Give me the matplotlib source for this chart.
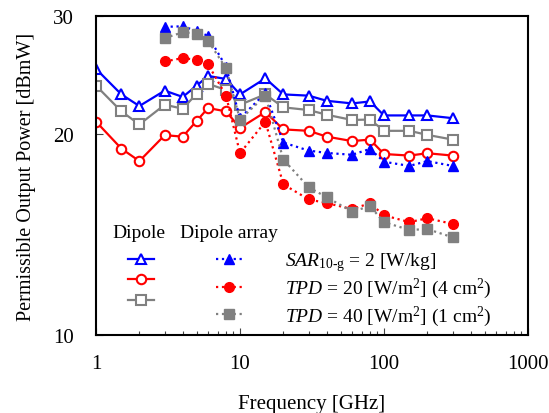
import matplotlib
matplotlib.use('Agg')
import matplotlib.pyplot as plt
import matplotlib.ticker as ticker

plt.rcParams['font.family'] = ['Liberation Serif', 'DejaVu Serif']
plt.rcParams['mathtext.fontset'] = 'custom'
plt.rcParams['mathtext.rm'] = 'Liberation Serif'
plt.rcParams['mathtext.it'] = 'Liberation Serif:italic'

# ---------------------------------------------------------------------------
# Data
# ---------------------------------------------------------------------------
freq_dipole = [1, 1.5, 2, 3, 4, 5, 6, 8, 10, 15, 20, 30, 40, 60, 80, 100, 150, 200, 300]
sar_dipole = [25.0, 22.9, 22.0, 23.2, 22.7, 23.6, 24.4, 24.15, 22.9, 24.2, 22.9, 22.8,
              22.4, 22.2, 22.35, 21.3, 21.3, 21.3, 21.1]
tpd20_dipole = [20.85, 19.0, 18.2, 19.9, 19.8, 20.9, 21.85, 21.6, 20.4, 21.55, 20.3, 20.2,
                19.8, 19.5, 19.6, 18.65, 18.55, 18.7, 18.55]
tpd40_dipole = [23.6, 21.6, 20.65, 22.1, 21.8, 22.95, 23.75, 23.25, 22.1, 22.9, 21.9, 21.7,
                21.35, 20.97, 21.0, 20.2, 20.2, 19.92, 19.6]

freq_array = [3, 4, 5, 6, 8, 10, 15, 20, 30, 40, 60, 80, 100, 150, 200, 300]
sar_array = [28.9, 28.95, 28.5, 28.0, 25.2, 21.1, 23.0, 19.4, 18.87, 18.72, 18.6, 18.98,
             18.16, 17.9, 18.2, 17.9]
tpd20_array = [25.65, 25.95, 25.8, 25.4, 22.8, 18.7, 20.85, 16.8, 15.95, 15.75, 15.43, 15.74,
               15.1, 14.75, 14.95, 14.66]
tpd40_array = [27.8, 28.36, 28.23, 27.55, 25.05, 21.0, 22.8, 18.3, 16.63, 16.07, 15.3, 15.58,
               14.75, 14.36, 14.4, 14.0]

labels = [r'$\mathit{SAR}_{\mathrm{10\text{-}g}}$ = 2 [W/kg]',
          r'$\mathit{TPD}$ = 20 [W/m$^{\mathrm{2}}$] (4 cm$^{\mathrm{2}}$)',
          r'$\mathit{TPD}$ = 40 [W/m$^{\mathrm{2}}$] (1 cm$^{\mathrm{2}}$)']

BLUE, RED, GRAY = '#0000FF', '#FF0000', '#808080'

# ---------------------------------------------------------------------------
# Plot
# ---------------------------------------------------------------------------
fig = plt.figure(figsize=(5.49, 4.14), dpi=100)
ax = fig.add_axes([0.1749, 0.1884, 0.7868, 0.7706])

lw = 1.6
dip_style = dict(ls='-', lw=lw, mfc='white', mew=1.5, ms=6.8)
arr_style = dict(ls=':', lw=lw, ms=7)

h_dip = []
h_dip.append(ax.plot(freq_dipole, sar_dipole, marker='^', color=BLUE, **dip_style)[0])
h_dip.append(ax.plot(freq_dipole, tpd20_dipole, marker='o', color=RED, **dip_style)[0])
h_dip.append(ax.plot(freq_dipole, tpd40_dipole, marker='s', color=GRAY, **dip_style)[0])

h_arr = []
h_arr.append(ax.plot(freq_array, sar_array, marker='^', color=BLUE, **arr_style)[0])
h_arr.append(ax.plot(freq_array, tpd20_array, marker='o', color=RED, **arr_style)[0])
h_arr.append(ax.plot(freq_array, tpd40_array, marker='s', color=GRAY, **arr_style)[0])

ax.set_xscale('log')
ax.set_yscale('log')
ax.set_xlim(1, 1000)
ax.set_ylim(10, 30)

ax.yaxis.set_major_locator(ticker.FixedLocator([10, 20, 30]))
ax.yaxis.set_major_formatter(ticker.FixedFormatter(['10', '20', '30']))
ax.yaxis.set_minor_locator(ticker.NullLocator())
ax.xaxis.set_major_formatter(ticker.FuncFormatter(lambda v, p: f'{v:g}'))

ax.tick_params(which='both', direction='in', labelsize=15, color='#444444')
ax.tick_params(which='major', length=5, width=0.8)
ax.tick_params(which='minor', length=3, width=0.8)
ax.tick_params(axis='x', pad=14)
ax.tick_params(axis='y', pad=16)
for s in ax.spines.values():
    s.set_linewidth(1.5)

ax.set_xlabel('Frequency [GHz]', fontsize=15, labelpad=15)
ax.set_ylabel('Permissible Output Power [dBmW]', fontsize=14.5, labelpad=12)

leg = ax.legend(h_dip + h_arr, ['', '', ''] + labels, ncol=2, frameon=False,
                loc='upper left', bbox_to_anchor=(0.074, 0.266),
                fontsize=14, handlelength=1.35, handletextpad=2.2,
                columnspacing=0.97, labelspacing=0.15, borderpad=0, borderaxespad=0)

ax.text(0.10, 0.294, 'Dipole', transform=ax.transAxes, fontsize=14,
        ha='center', va='bottom')
ax.text(0.308, 0.294, 'Dipole array', transform=ax.transAxes, fontsize=14,
        ha='center', va='bottom')

fig.savefig('out.png', dpi=100)
